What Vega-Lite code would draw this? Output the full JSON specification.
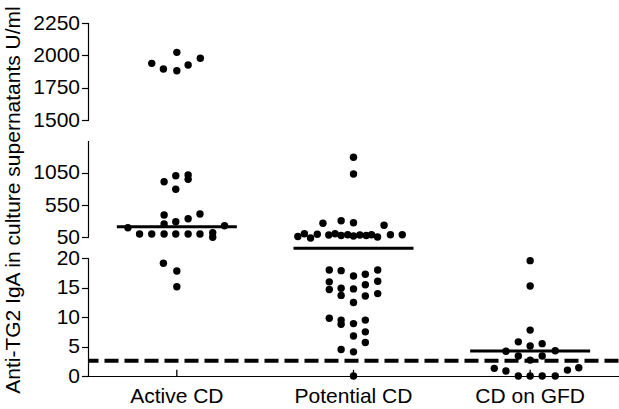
{
  "$schema": "https://vega.github.io/schema/vega-lite/v6.json",
  "width": 530,
  "height": 353,
  "autosize": "none",
  "padding": {"left": 88.5, "top": 23, "right": 0, "bottom": 33},
  "config": {
    "view": {"stroke": null},
    "font": "Liberation Sans",
    "axis": {"labelFont": "Liberation Sans", "titleFont": "Liberation Sans", "labelColor": "black", "titleColor": "black", "tickColor": "black", "domainColor": "black", "grid": false},
    "axisX": {"title": null, "domain": true, "domainWidth": 1.2, "ticks": false,
              "labelAngle": 0, "labelFontSize": 21, "labelPadding": 9},
    "axisY": {"domain": false, "tickSize": 7, "tickWidth": 1.2, "labelFontSize": 21, "labelPadding": 2,
              "labelOverlap": false, "labelFlush": false, "labelBound": false,
              "titleFontSize": 21, "titleFontWeight": "normal", "titlePadding": 9}
  },
  "datasets": {
    "points": [
      {"g": "Active CD", "j": -0.142, "v": 1938},
      {"g": "Active CD", "j": -0.076, "v": 1894},
      {"g": "Active CD", "j": 0, "v": 2023},
      {"g": "Active CD", "j": 0, "v": 1881},
      {"g": "Active CD", "j": 0.064, "v": 1925},
      {"g": "Active CD", "j": 0.133, "v": 1977},
      {"g": "Active CD", "j": -0.072, "v": 910},
      {"g": "Active CD", "j": -0.006, "v": 1003},
      {"g": "Active CD", "j": 0.064, "v": 1014},
      {"g": "Active CD", "j": 0.064, "v": 947},
      {"g": "Active CD", "j": -0.006, "v": 793},
      {"g": "Active CD", "j": -0.072, "v": 395},
      {"g": "Active CD", "j": -0.072, "v": 256},
      {"g": "Active CD", "j": -0.006, "v": 291},
      {"g": "Active CD", "j": 0.064, "v": 338},
      {"g": "Active CD", "j": 0.131, "v": 410},
      {"g": "Active CD", "j": -0.277, "v": 199},
      {"g": "Active CD", "j": 0.27, "v": 229},
      {"g": "Active CD", "j": -0.211, "v": 101},
      {"g": "Active CD", "j": -0.142, "v": 101},
      {"g": "Active CD", "j": -0.072, "v": 101},
      {"g": "Active CD", "j": -0.006, "v": 101},
      {"g": "Active CD", "j": 0.064, "v": 101},
      {"g": "Active CD", "j": 0.131, "v": 101},
      {"g": "Active CD", "j": 0.203, "v": 121},
      {"g": "Active CD", "j": 0.203, "v": 50},
      {"g": "Active CD", "j": -0.076, "v": 19.15},
      {"g": "Active CD", "j": 0, "v": 17.84},
      {"g": "Active CD", "j": 0, "v": 15.16},
      {"g": "Potential CD", "j": -0.315, "v": 62},
      {"g": "Potential CD", "j": -0.278, "v": 104},
      {"g": "Potential CD", "j": -0.243, "v": 49},
      {"g": "Potential CD", "j": -0.205, "v": 98},
      {"g": "Potential CD", "j": -0.14, "v": 86},
      {"g": "Potential CD", "j": -0.104, "v": 106},
      {"g": "Potential CD", "j": -0.07, "v": 78},
      {"g": "Potential CD", "j": -0.033, "v": 89},
      {"g": "Potential CD", "j": 0, "v": 70},
      {"g": "Potential CD", "j": 0.036, "v": 86},
      {"g": "Potential CD", "j": 0.072, "v": 78},
      {"g": "Potential CD", "j": 0.102, "v": 89},
      {"g": "Potential CD", "j": 0.136, "v": 55},
      {"g": "Potential CD", "j": 0.209, "v": 90},
      {"g": "Potential CD", "j": 0.276, "v": 90},
      {"g": "Potential CD", "j": -0.173, "v": 267},
      {"g": "Potential CD", "j": -0.07, "v": 307},
      {"g": "Potential CD", "j": 0, "v": 276},
      {"g": "Potential CD", "j": 0.173, "v": 236},
      {"g": "Potential CD", "j": 0, "v": 1288},
      {"g": "Potential CD", "j": 0, "v": 1029},
      {"g": "Potential CD", "j": -0.137, "v": 18.0},
      {"g": "Potential CD", "j": -0.137, "v": 16.0},
      {"g": "Potential CD", "j": -0.137, "v": 14.7},
      {"g": "Potential CD", "j": -0.07, "v": 17.9},
      {"g": "Potential CD", "j": -0.07, "v": 14.9},
      {"g": "Potential CD", "j": -0.07, "v": 13.7},
      {"g": "Potential CD", "j": 0, "v": 17.0},
      {"g": "Potential CD", "j": 0, "v": 14.8},
      {"g": "Potential CD", "j": 0, "v": 12.5},
      {"g": "Potential CD", "j": 0.067, "v": 17.3},
      {"g": "Potential CD", "j": 0.067, "v": 15.5},
      {"g": "Potential CD", "j": 0.067, "v": 13.6},
      {"g": "Potential CD", "j": 0.137, "v": 18.0},
      {"g": "Potential CD", "j": 0.137, "v": 16.1},
      {"g": "Potential CD", "j": 0.137, "v": 14.0},
      {"g": "Potential CD", "j": -0.137, "v": 9.8},
      {"g": "Potential CD", "j": -0.07, "v": 9.5},
      {"g": "Potential CD", "j": -0.07, "v": 8.8},
      {"g": "Potential CD", "j": 0, "v": 8.9},
      {"g": "Potential CD", "j": 0.067, "v": 9.5},
      {"g": "Potential CD", "j": 0, "v": 6.8},
      {"g": "Potential CD", "j": 0.067, "v": 7.5},
      {"g": "Potential CD", "j": 0.067, "v": 5.7},
      {"g": "Potential CD", "j": -0.07, "v": 4.5},
      {"g": "Potential CD", "j": 0, "v": 4.1},
      {"g": "Potential CD", "j": 0, "v": 0},
      {"g": "CD on GFD", "j": 0, "v": 19.6},
      {"g": "CD on GFD", "j": 0, "v": 15.3},
      {"g": "CD on GFD", "j": 0, "v": 7.8},
      {"g": "CD on GFD", "j": -0.067, "v": 5.8},
      {"g": "CD on GFD", "j": 0, "v": 5.1},
      {"g": "CD on GFD", "j": 0.068, "v": 5.5},
      {"g": "CD on GFD", "j": -0.137, "v": 4.2},
      {"g": "CD on GFD", "j": 0.142, "v": 4.3},
      {"g": "CD on GFD", "j": -0.067, "v": 3.4},
      {"g": "CD on GFD", "j": 0, "v": 2.7},
      {"g": "CD on GFD", "j": 0.068, "v": 3.4},
      {"g": "CD on GFD", "j": -0.203, "v": 1.3},
      {"g": "CD on GFD", "j": -0.137, "v": 0.85},
      {"g": "CD on GFD", "j": 0.211, "v": 1.0},
      {"g": "CD on GFD", "j": 0.275, "v": 1.4},
      {"g": "CD on GFD", "j": -0.067, "v": 0},
      {"g": "CD on GFD", "j": 0, "v": 0},
      {"g": "CD on GFD", "j": 0.068, "v": 0},
      {"g": "CD on GFD", "j": 0.142, "v": 0}
    ],
    "means": [
      {"g": "Active CD", "v": 214},
      {"g": "Potential CD", "v": 34.3},
      {"g": "CD on GFD", "v": 4.26}
    ],
    "segments": [
      {"g": "Active CD", "v": 0, "v2": 20},
      {"g": "Active CD", "v": 50, "v2": 1490},
      {"g": "Active CD", "v": 1500, "v2": 2250}
    ],
    "xticks": [
      {"g": "Active CD", "v": 0, "v2": 1.05},
      {"g": "Potential CD", "v": 0, "v2": 1.05},
      {"g": "CD on GFD", "v": 0, "v2": 1.05}
    ],
    "cutoff": [{"v": 2.6}]
  },
  "encoding": {
    "y": {"field": "v", "type": "quantitative",
          "scale": {"type": "linear", "domain": [0, 20, 50, 1050, 1300, 1490, 1500, 2250], "range": [353, 235.3, 214.3, 149.7, 133.55, 118, 97, 0], "nice": false, "zero": false},
          "axis": {"values": [0, 5, 10, 15, 20, 50, 550, 1050, 1500, 1750, 2000, 2250], "format": "d",
                   "title": "Anti-TG2 IgA in culture supernatants U/ml"}}
  },
  "layer": [
    {
      "data": {"name": "segments"},
      "mark": {"type": "rule", "color": "black", "strokeWidth": 1.2},
      "encoding": {
        "x": {"field": "g", "type": "nominal", "bandPosition": 0,
              "scale": {"domain": ["Active CD", "Potential CD", "CD on GFD"], "paddingInner": 0, "paddingOuter": 0}},
        "y2": {"field": "v2"}
      }
    },
    {
      "data": {"name": "xticks"},
      "mark": {"type": "rule", "color": "black", "strokeWidth": 1.3},
      "encoding": {
        "x": {"field": "g", "type": "nominal"},
        "y2": {"field": "v2"}
      }
    },
    {
      "data": {"name": "cutoff"},
      "mark": {"type": "rule", "color": "black", "strokeWidth": 4, "strokeDash": [14, 6]},
      "encoding": {}
    },
    {
      "data": {"name": "means"},
      "mark": {"type": "tick", "color": "black", "opacity": 1, "thickness": 3, "size": 120, "orient": "horizontal"},
      "encoding": {
        "x": {"field": "g", "type": "nominal"}
      }
    },
    {
      "data": {"name": "points"},
      "mark": {"type": "circle", "color": "black", "opacity": 1, "size": 55},
      "encoding": {
        "x": {"field": "g", "type": "nominal"},
        "xOffset": {"field": "j", "type": "quantitative", "scale": {"domain": [-0.5, 0.5]}}
      }
    }
  ]
}
